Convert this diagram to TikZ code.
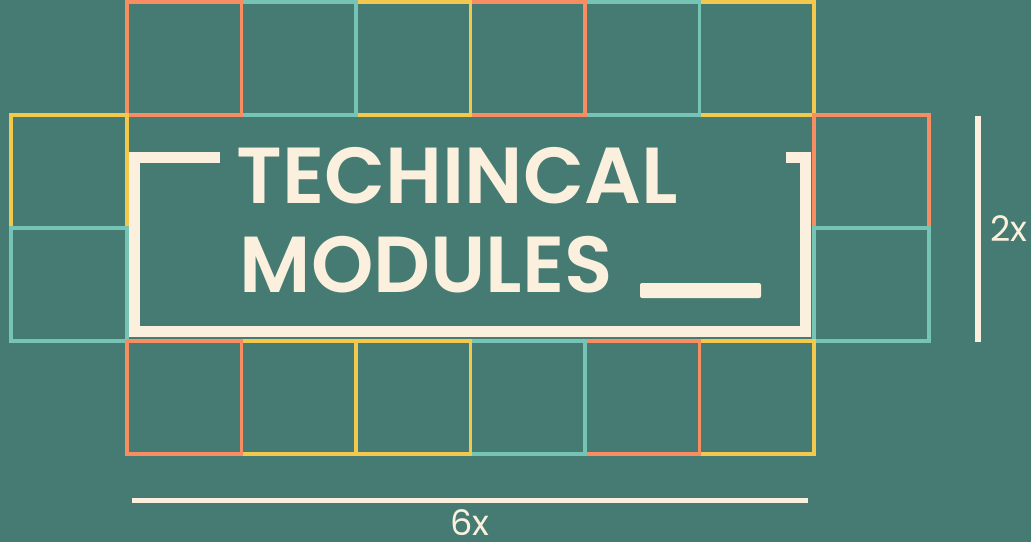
\documentclass[tikz,border=0pt]{standalone}
\usepackage{fontspec}
\setmainfont{Poppins}
\newfontfamily\titlefont{Poppins}[UprightFont={* SemiBold}]
\definecolor{bg}{RGB}{69,123,114}
\definecolor{coral}{RGB}{247,141,96}
\definecolor{mint}{RGB}{117,196,182}
\definecolor{mustard}{RGB}{242,201,76}
\definecolor{cream}{RGB}{251,240,221}
\tikzstyle{cell}=[rectangle,draw,line width=0.035cm,inner sep=0,outer sep=0,minimum width=1.145cm,minimum height=1.13cm]
\tikzstyle{title}=[anchor=base west,inner sep=0,text=cream,font=\titlefont\fontsize{22.6}{27}\selectfont]
\tikzstyle{dim}=[text=cream,inner sep=0,font=\fontsize{10}{12}\selectfont]

\begin{document}
\begin{tikzpicture}[line join=miter]
\fill[bg] (0,0) rectangle (10.31,-5.42);
\useasboundingbox (0,0) rectangle (10.31,-5.42);

% top row
\node[cell,draw=mustard] (t6) at (7.5675,-0.5825) {};
\node[cell,draw=mint] (t5) at (6.4225,-0.5825) {};
\node[cell,draw=coral] (t4) at (5.2775,-0.5825) {};
\node[cell,draw=mustard] (t3) at (4.1325,-0.5825) {};
\node[cell,draw=mint] (t2) at (2.9875,-0.5825) {};
\node[cell,draw=coral] (t1) at (1.8425,-0.5825) {};

% sides
\node[cell,draw=mustard,minimum width=1.16cm] (l1) at (0.69,-1.715) {};
\node[cell,draw=mint,minimum width=1.16cm] (l2) at (0.69,-2.845) {};
\node[cell,draw=coral,minimum width=1.15cm] (r1) at (8.715,-1.715) {};
\node[cell,draw=mint,minimum width=1.15cm] (r2) at (8.715,-2.845) {};

% bottom row
\node[cell,draw=mustard] (b6) at (7.5675,-3.975) {};
\node[cell,draw=coral] (b5) at (6.4225,-3.975) {};
\node[cell,draw=mint] (b4) at (5.2775,-3.975) {};
\node[cell,draw=mustard] (b3) at (4.1325,-3.975) {};
\node[cell,draw=mustard] (b2) at (2.9875,-3.975) {};
\node[cell,draw=coral] (b1) at (1.8425,-3.975) {};

% bracket
\draw[cream,line width=0.11cm] (2.20,-1.57) -- (1.345,-1.57) -- (1.345,-3.315) -- (8.055,-3.315) -- (8.055,-1.57) -- (7.86,-1.57);
\node[title] (line1) at (2.36,-2.03) {TECHINCAL};
\node[title] (line2) at (2.39,-2.92) {MODULES};
\node[fill=cream,rounded corners=0.02cm,inner sep=0,minimum width=1.21cm,minimum height=0.15cm] (cursor) at (7.005,-2.905) {};

% measures
\coordinate (hleft) at (1.32,-5.005);
\coordinate (hright) at (8.08,-5.005);
\coordinate (vtop) at (9.78,-1.16);
\coordinate (vbot) at (9.78,-3.42);
\draw[cream,line width=0.05cm] (hleft) -- node[dim,below=0.07cm] (six) {6x} (hright);
\draw[cream,line width=0.06cm] (vtop) -- node[dim,right=0.09cm] (two) {2x} (vbot);
\end{tikzpicture}
\end{document}
